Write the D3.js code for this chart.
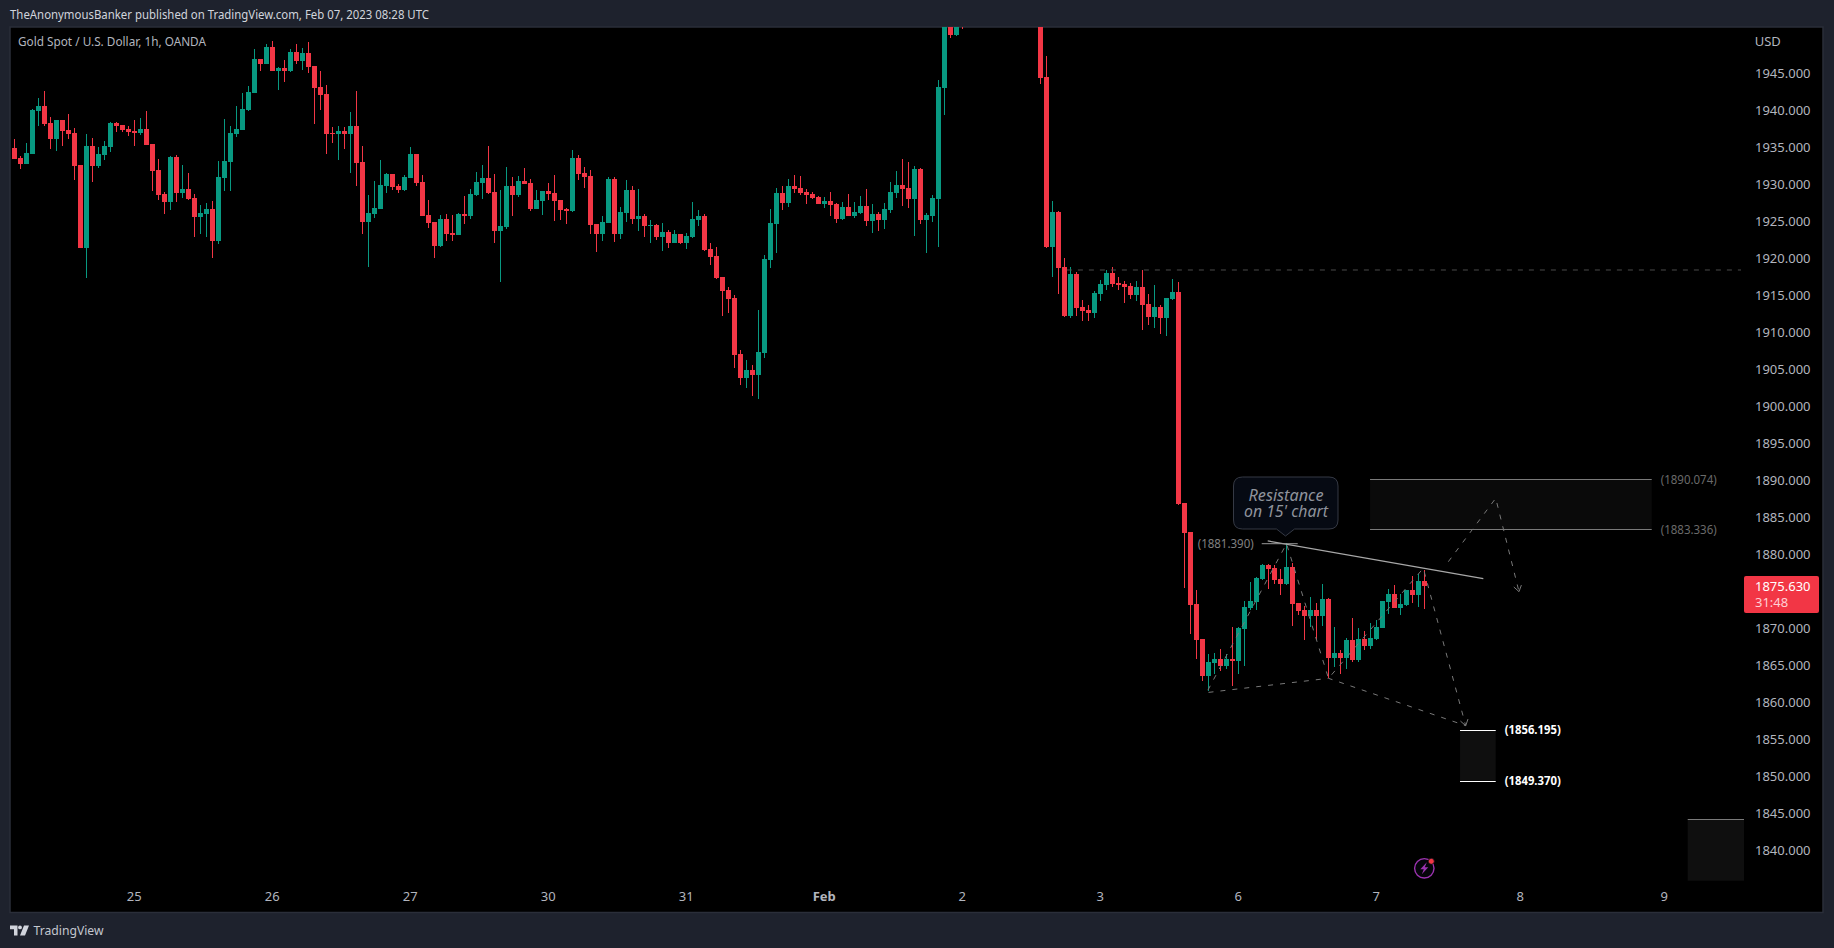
<!DOCTYPE html>
<html><head><meta charset="utf-8">
<script src="https://d3js.org/d3.v7.min.js"></script>
<style>
html,body{margin:0;padding:0;background:#1e222d;overflow:hidden}
svg{display:block}
text{font-family:"Noto Sans",sans-serif}
</style></head><body>
<svg id="c" width="1834" height="948"></svg>
<script>
const firstBar = -1;
const opens = [1935.95,
1934.87,1933.51,1932.75,1934.10,1939.91,1940.54,1938.24,1936.08,1938.65,1937.30,
1936.89,1932.57,1921.35,1935.13,1932.43,1933.92,1935.00,1938.24,1937.97,1937.43,
1937.16,1936.89,1937.43,1935.40,1931.89,1928.65,1927.57,1933.65,1928.78,1929.32,
1928.11,1925.54,1925.95,1926.62,1922.30,1930.81,1932.97,1936.76,1937.30,1940.00,
1942.30,1946.89,1946.22,1948.51,1945.27,1945.68,1945.27,1947.84,1946.62,1947.70,
1945.95,1943.11,1942.16,1936.89,1936.76,1937.16,1936.76,1937.84,1932.97,1924.87,
1925.95,1926.62,1929.73,1931.35,1929.73,1929.19,1930.81,1934.05,1930.27,1925.81,
1924.87,1921.62,1925.27,1923.38,1923.11,1925.95,1925.68,1928.51,1930.14,1930.81,
1928.92,1923.65,1924.19,1929.73,1928.51,1930.40,1930.14,1926.62,1927.70,1929.05,
1928.78,1927.84,1926.62,1926.35,1933.51,1931.49,1931.08,1924.59,1923.24,1924.73,
1930.68,1923.24,1926.08,1929.19,1925.27,1925.68,1924.32,1924.46,1922.84,1923.51,
1922.03,1923.24,1922.03,1922.84,1925.13,1925.68,1921.22,1920.27,1917.43,1915.68,
1914.59,1907.03,1903.78,1904.86,1904.19,1907.16,1919.73,1924.59,1928.78,1927.43,
1929.73,1929.46,1928.92,1928.65,1928.24,1927.30,1927.70,1927.30,1925.27,1926.89,
1925.68,1926.08,1927.03,1925.00,1925.95,1925.13,1926.49,1928.78,1929.86,1929.46,
1927.97,1932.03,1925.14,1925.68,1927.97,1942.97,1955.00,1950.14,1954.50,1953.50,
1956.00,1955.00,1954.00,1955.50,1954.60,1953.20,1954.20,1953.60,1952.80,1953.50,
1954.00,1953.80,1944.46,1921.49,1926.22,1918.78,1912.16,1917.84,1913.38,1912.97,
1912.57,1915.14,1916.35,1917.97,1916.62,1916.49,1916.22,1915.00,1916.08,1913.78,
1912.03,1913.38,1911.89,1914.46,1915.40,1886.89,1882.97,1873.24,1868.51,1863.51,
1865.27,1865.81,1864.86,1865.81,1865.54,1869.87,1872.70,1873.51,1876.62,1878.51,
1878.11,1876.62,1875.95,1878.24,1873.38,1872.43,1871.62,1872.43,1871.62,1873.92,
1865.95,1866.62,1865.95,1868.38,1865.68,1868.51,1867.57,1868.51,1870.00,1873.51,
1874.59,1872.70,1873.11,1875.14,1874.46,1876.35];
const highs = [1936.20,
1936.04,1933.78,1935.50,1940.09,1941.62,1942.57,1939.05,1938.65,1938.65,1939.46,
1937.57,1932.57,1936.71,1936.22,1935.00,1935.81,1938.38,1938.38,1937.97,1937.84,
1938.65,1938.92,1939.86,1935.40,1933.38,1928.92,1933.78,1933.92,1932.57,1931.49,
1928.65,1927.16,1927.43,1927.70,1933.11,1938.78,1937.84,1940.54,1942.30,1943.24,
1948.24,1946.89,1948.92,1949.32,1945.81,1946.76,1948.24,1948.92,1948.38,1949.19,
1945.95,1945.27,1943.38,1937.70,1937.84,1937.70,1939.73,1942.57,1935.13,1928.51,
1930.41,1933.24,1931.49,1931.35,1930.00,1931.22,1935.00,1934.05,1931.22,1927.84,
1924.87,1925.81,1925.95,1925.81,1926.08,1928.38,1929.32,1931.62,1932.57,1935.13,
1931.35,1929.19,1932.30,1930.95,1931.08,1932.16,1930.68,1929.19,1929.05,1930.14,
1931.22,1927.84,1926.76,1934.59,1933.92,1932.30,1931.89,1924.59,1925.68,1930.95,
1930.95,1926.89,1930.54,1929.73,1929.32,1925.95,1925.13,1924.59,1924.73,1923.78,
1923.78,1923.24,1923.38,1927.57,1926.49,1925.95,1922.03,1921.49,1917.43,1916.08,
1915.00,1907.57,1906.22,1905.54,1912.97,1920.40,1926.62,1929.46,1929.73,1930.68,
1931.22,1931.08,1929.32,1928.92,1928.38,1928.24,1928.92,1927.43,1927.57,1928.65,
1927.57,1928.38,1929.32,1927.30,1926.22,1927.43,1930.27,1931.76,1933.38,1932.97,
1932.43,1932.16,1926.08,1928.51,1944.05,1958.00,1956.00,1953.00,1956.00,1957.00,
1959.00,1957.00,1956.50,1958.00,1956.00,1955.00,1956.20,1955.20,1954.00,1955.00,
1955.00,1955.00,1947.30,1927.70,1926.35,1920.00,1918.78,1918.11,1914.32,1913.65,
1915.54,1917.03,1918.38,1918.78,1917.43,1916.89,1916.62,1916.89,1918.38,1915.14,
1916.35,1913.65,1914.59,1917.16,1916.76,1886.89,1882.97,1875.14,1868.51,1866.49,
1866.62,1867.16,1866.49,1870.13,1870.13,1873.65,1876.22,1876.89,1878.65,1878.65,
1878.51,1877.97,1881.49,1878.78,1873.38,1872.97,1874.19,1873.38,1875.95,1874.05,
1870.13,1867.03,1868.65,1871.35,1870.00,1869.60,1870.68,1871.08,1873.65,1875.27,
1875.81,1874.59,1875.14,1877.03,1877.30,1877.84];
const lows = [1934.40,
1933.42,1932.07,1932.75,1934.10,1937.84,1937.84,1934.73,1934.46,1935.13,1936.08,
1930.54,1921.35,1917.30,1930.27,1932.16,1933.24,1934.32,1937.03,1937.03,1936.49,
1935.13,1936.62,1935.27,1929.05,1927.84,1925.95,1926.49,1927.57,1928.11,1927.84,
1922.84,1923.24,1922.84,1920.00,1921.89,1929.05,1929.05,1936.35,1937.30,1939.86,
1942.30,1945.27,1946.22,1945.27,1942.70,1943.78,1945.14,1946.22,1945.41,1945.00,
1938.11,1940.00,1934.05,1935.54,1933.24,1934.73,1931.49,1929.73,1923.24,1918.78,
1925.41,1926.62,1928.78,1929.19,1928.78,1929.05,1930.81,1929.73,1925.68,1924.05,
1920.00,1921.49,1922.30,1922.30,1923.11,1924.59,1925.27,1928.38,1927.97,1928.65,
1922.03,1916.76,1923.92,1925.68,1928.24,1930.00,1926.35,1926.62,1925.81,1927.84,
1925.00,1925.13,1924.59,1926.22,1930.54,1929.46,1923.24,1920.81,1922.30,1924.73,
1922.16,1922.57,1924.86,1924.59,1923.65,1922.84,1922.03,1922.43,1920.95,1921.35,
1922.03,1921.89,1921.22,1922.70,1924.32,1920.95,1919.05,1917.16,1912.16,1912.57,
1905.14,1902.84,1902.43,1901.35,1900.95,1906.49,1918.65,1920.67,1926.49,1926.89,
1928.78,1928.51,1927.30,1927.97,1927.30,1926.76,1925.68,1924.73,1925.13,1925.68,
1925.40,1925.95,1924.32,1923.38,1923.65,1923.92,1926.08,1928.11,1927.03,1926.76,
1922.97,1924.59,1920.68,1924.87,1921.49,1939.32,1949.73,1950.00,1950.95,1952.00,
1954.00,1953.50,1952.60,1953.90,1952.50,1952.00,1953.00,1952.20,1951.80,1952.30,
1952.50,1943.51,1921.35,1917.43,1915.14,1912.03,1911.89,1912.16,1911.49,1911.49,
1911.89,1914.19,1915.68,1916.08,1915.68,1913.92,1914.46,1914.19,1910.27,1910.95,
1910.54,1909.73,1909.46,1914.32,1886.67,1875.40,1869.19,1865.81,1862.84,1861.49,
1863.78,1864.19,1864.46,1862.16,1863.78,1864.86,1872.43,1872.43,1876.49,1875.27,
1875.95,1874.46,1875.81,1870.27,1871.76,1868.38,1870.13,1868.38,1870.27,1863.24,
1864.73,1863.78,1864.46,1865.41,1865.41,1867.03,1867.16,1868.38,1870.00,1871.89,
1872.70,1871.76,1872.97,1873.38,1872.84,1872.57];
const closes = [1934.82,
1933.42,1932.75,1934.19,1940.00,1940.54,1938.11,1936.08,1938.65,1937.16,1936.76,
1932.43,1921.35,1935.13,1932.43,1934.05,1935.13,1938.24,1937.84,1937.30,1937.03,
1936.89,1937.43,1935.27,1931.76,1928.51,1927.57,1933.65,1928.78,1929.32,1927.97,
1925.54,1926.08,1926.62,1922.30,1930.95,1933.11,1936.89,1937.43,1940.13,1942.43,
1946.89,1946.22,1948.51,1945.27,1945.68,1945.27,1947.84,1946.62,1947.70,1945.81,
1942.97,1942.03,1936.76,1936.76,1937.16,1936.76,1937.84,1932.84,1924.87,1926.08,
1926.76,1929.86,1931.35,1929.59,1929.19,1930.95,1934.05,1930.14,1925.68,1924.73,
1921.62,1925.27,1923.24,1923.11,1925.95,1925.68,1928.65,1930.27,1930.81,1928.78,
1923.65,1924.32,1929.73,1928.51,1930.40,1930.00,1926.62,1927.84,1929.05,1928.65,
1927.70,1926.49,1926.35,1933.51,1931.35,1930.95,1924.46,1923.24,1924.86,1930.68,
1923.24,1926.22,1929.19,1925.27,1925.68,1924.32,1924.46,1922.84,1923.51,1922.03,
1923.24,1922.03,1922.97,1925.27,1925.68,1921.08,1920.13,1917.30,1915.54,1914.46,
1906.89,1903.78,1904.86,1904.19,1907.30,1919.86,1924.73,1928.78,1927.43,1929.73,
1929.32,1928.78,1928.51,1928.11,1927.30,1927.70,1927.16,1925.27,1926.89,1925.68,
1926.22,1927.03,1925.00,1925.95,1925.13,1926.62,1928.92,1929.86,1929.32,1927.97,
1932.03,1925.14,1925.81,1928.11,1943.11,1956.00,1950.14,1952.50,1953.50,1956.00,
1955.00,1954.00,1955.50,1954.60,1953.20,1954.20,1953.60,1952.80,1953.50,1954.00,
1953.80,1944.33,1921.49,1926.22,1918.65,1912.16,1917.84,1913.24,1912.84,1912.57,
1915.27,1916.49,1917.97,1916.49,1916.35,1916.08,1915.00,1916.08,1913.65,1912.03,
1913.38,1911.89,1914.59,1915.40,1886.80,1882.88,1873.11,1868.38,1863.51,1865.41,
1865.81,1864.86,1865.81,1865.54,1870.00,1872.84,1873.65,1876.76,1878.51,1877.97,
1876.49,1875.95,1878.24,1873.24,1872.30,1871.62,1872.43,1871.62,1873.92,1865.95,
1866.62,1865.95,1868.38,1865.68,1868.51,1867.57,1868.65,1870.13,1873.65,1874.59,
1872.70,1873.24,1875.14,1874.46,1876.35,1875.63];

const priceTicks = [1840,1845,1850,1855,1860,1865,1870,1880,1885,1890,1895,1900,1905,1910,1915,1920,1925,1930,1935,1940,1945];
const dayBars = [20,43,66,89,112,135,158,181,204,227,251,275];
const dayLabels = ["25","26","27","30","31","Feb","2","3","6","7","8","9"];
const lastPrice = 1875.63, lastLabel = "1875.630", countdown = "31:48";

const zoneA = {b:[225.92,272.87], p:[1890.074,1883.336]};
const zoneB = {b:[240.92,246.87], p:[1856.195,1849.370]};
const zoneC = {b:[278.87,288.25], p:[1844.15,1835.85]};
const priceLabels = [["(1890.074)",274.37,1890.074,"#6a6a6a",400],["(1883.336)",274.37,1883.336,"#6a6a6a",400],
                     ["(1856.195)",248.37,1856.195,"#ffffff",700],["(1849.370)",248.37,1849.370,"#ffffff",700]];
const hDash = {b:[175.4,287.75], p:1918.38};
const resLevel = {b:[207.87,213.87], p:1881.39};
const trend = [[208.87,1881.76],[244.8,1876.66]];
const base = [[199,1861.3],[219,1863.2],[241.87,1856.8]];
const zig = [[198.9,1861.6],[212,1881.39],[219,1863.2],[234.8,1878.07],[241.87,1856.8]];
const fwd = [[238.97,1878.96],[246.87,1887.53],[250.75,1874.91]];

const svg = d3.select("#c");
const L=10,T=27,R=1823,B=912.5;
const x = d3.scaleLinear().domain([-1,235]).range([8.5,1424.5]);
const y = d3.scaleLinear().domain([1890,1850]).range([480,776]);
const RED="#f23645", GREEN="#089981";

svg.append("defs").append("clipPath").attr("id","plot").append("rect")
  .attr("x",L+1).attr("y",T).attr("width",1733).attr("height",B-T);
svg.append("rect").attr("x",L).attr("y",T).attr("width",R-L).attr("height",B-T)
  .attr("fill","#000").attr("stroke","#2a2e39").attr("stroke-width",1.5);

const plot = svg.append("g").attr("clip-path","url(#plot)");

// zones
[[zoneA,"#0a0a0a"],[zoneB,"#0f0f0f"],[zoneC,"#0f0f0f"]].forEach(([z,f])=>{
  plot.append("rect").attr("x",x(z.b[0])).attr("y",y(z.p[0]))
    .attr("width",x(z.b[1])-x(z.b[0])).attr("height",y(z.p[1])-y(z.p[0])).attr("fill",f);
});

// candles
const bars = opens.map((o,k)=>({b:k+firstBar,o,h:highs[k],l:lows[k],c:closes[k]}));
const g = plot.append("g").attr("shape-rendering","crispEdges");
g.selectAll("rect.w").data(bars).join("rect").attr("class","w")
  .attr("x",d=>x(d.b)-0.5).attr("width",1)
  .attr("y",d=>Math.round(y(d.h))).attr("height",d=>Math.max(1,Math.round(y(d.l))-Math.round(y(d.h))))
  .attr("fill",d=>d.c>=d.o?GREEN:RED);
g.selectAll("rect.b").data(bars).join("rect").attr("class","b")
  .attr("x",d=>x(d.b)-2.5).attr("width",5)
  .attr("y",d=>Math.round(y(Math.max(d.o,d.c))))
  .attr("height",d=>Math.max(1,Math.round(y(Math.min(d.o,d.c)))-Math.round(y(Math.max(d.o,d.c)))))
  .attr("fill",d=>d.c>=d.o?GREEN:RED);

// drawings
const line = d3.line().x(d=>x(d[0])).y(d=>y(d[1]));
const DASH="#787878";
function dashed(pts){plot.append("path").attr("d",line(pts)).attr("fill","none").attr("stroke",DASH)
  .attr("stroke-width",1).attr("stroke-dasharray","5 7");}
dashed(base); dashed(zig); dashed(fwd);
function arrow(pts){
  const [a,b]=pts.slice(-2), ax=x(a[0]),ay=y(a[1]),ex=x(b[0]),ey=y(b[1]);
  const t=Math.atan2(ey-ay,ex-ax), s=7;
  const p=[[ex+s*Math.cos(t+2.55),ey+s*Math.sin(t+2.55)],[ex,ey],[ex+s*Math.cos(t-2.55),ey+s*Math.sin(t-2.55)]];
  plot.append("path").attr("d",d3.line()(p)).attr("fill","none").attr("stroke",DASH).attr("stroke-width",1);
}
arrow(zig); arrow(fwd);
plot.append("line").attr("x1",x(hDash.b[0])).attr("x2",x(hDash.b[1])).attr("y1",y(hDash.p)).attr("y2",y(hDash.p))
  .attr("stroke","#4a4a4a").attr("stroke-width",1).attr("stroke-dasharray","5 6");
plot.append("path").attr("d",line(trend)).attr("stroke","#a8a8a8").attr("stroke-width",1.25).attr("fill","none");
plot.append("line").attr("x1",x(resLevel.b[0])).attr("x2",x(resLevel.b[1])).attr("y1",y(resLevel.p)).attr("y2",y(resLevel.p))
  .attr("stroke","#9a9a9a").attr("stroke-width",1);
[[zoneA,"#7a7a7a","#7a7a7a"],[zoneB,"#ffffff","#ffffff"]].forEach(([z,c1,c2])=>{
  z.p.forEach((p,i)=>plot.append("line").attr("x1",x(z.b[0])).attr("x2",x(z.b[1]))
    .attr("y1",Math.round(y(p))+0.5).attr("y2",Math.round(y(p))+0.5).attr("stroke",i?c2:c1));
});
plot.append("line").attr("x1",x(zoneC.b[0])).attr("x2",x(zoneC.b[1]))
  .attr("y1",Math.round(y(zoneC.p[0]))+0.5).attr("y2",Math.round(y(zoneC.p[0]))+0.5).attr("stroke","#7a7a7a");

function fit(sel,w){return sel.attr("textLength",w).attr("lengthAdjust","spacingAndGlyphs");}
priceLabels.forEach(([t,b,p,c,w])=>{
  fit(plot.append("text").attr("x",x(b)).attr("y",y(p)).attr("dy","0.35em").attr("fill",c)
    .attr("font-size",12).attr("font-weight",w).text(t),56);
});
fit(plot.append("text").attr("x",1197.7).attr("y",y(resLevel.p)).attr("dy","0.35em")
  .attr("fill","#808080").attr("font-size",12).text("(1881.390)"),56);

// callout
const cx=x(212)-1, cTop=477, cBot=529, cLeft=1233.5, cRight=1338, rr=9;
plot.append("path").attr("d",
 `M${cLeft+rr},${cTop}H${cRight-rr}Q${cRight},${cTop} ${cRight},${cTop+rr}V${cBot-rr}Q${cRight},${cBot} ${cRight-rr},${cBot}H${cx+9}L${cx},${cBot+7}L${cx-9},${cBot}H${cLeft+rr}Q${cLeft},${cBot} ${cLeft},${cBot-rr}V${cTop+rr}Q${cLeft},${cTop} ${cLeft+rr},${cTop}Z`)
 .attr("fill","#060a13").attr("stroke","#353944").attr("stroke-width",1);
const note = plot.append("text").attr("text-anchor","middle").attr("font-style","italic")
  .attr("font-size",16).attr("fill","#8f939c");
[["Resistance",495,75],["on 15' chart",511,84]].forEach(([t,yy,w])=>{
  fit(note.append("tspan").attr("x",cx+0.5).attr("y",yy+5.6).text(t),w);
});

// lightning badge
const bx=1424.3,by=868.3;
svg.append("circle").attr("cx",bx).attr("cy",by).attr("r",9.7).attr("fill","#05050a").attr("stroke","#9c33b0").attr("stroke-width",1.4);
svg.append("path").attr("d",`M${bx+2.5},${by-6}L${bx-4},${by+1}H${bx-0.5}L${bx-2.5},${by+6}L${bx+4},${by-1}H${bx+0.5}Z`).attr("fill","#9c33b0");
svg.append("circle").attr("cx",bx+7).attr("cy",by-7).attr("r",3).attr("fill",RED).attr("stroke","#0a0d14").attr("stroke-width",0.8);

// axes
const yAxis = d3.axisRight(y).tickValues(priceTicks).tickFormat(d3.format(".3f")).tickSize(0).tickPadding(0);
const ya = svg.append("g").attr("transform","translate(1755,0)").call(yAxis);
ya.select(".domain").remove();
ya.selectAll("text").attr("font-size",13).attr("fill","#b2b5be").attr("font-family",'"Noto Sans",sans-serif').attr("dy","0.32em");
const xAxis = d3.axisBottom(x).tickValues(dayBars).tickFormat((d,i)=>dayLabels[i]).tickSize(0).tickPadding(0);
const xa = svg.append("g").attr("transform","translate(-0.8,892)").call(xAxis);
xa.select(".domain").remove();
xa.selectAll("text").attr("font-size",13).attr("fill","#b2b5be").attr("font-family",'"Noto Sans",sans-serif')
  .attr("font-weight",(d,i)=>dayLabels[i]==="Feb"?700:400);

svg.append("text").attr("x",1754.7).attr("y",42).attr("dy","0.3em").attr("font-size",13).attr("fill","#b2b5be").text("USD");

// last price tag
svg.append("rect").attr("x",1744).attr("y",576).attr("width",75).attr("height",37).attr("rx",2).attr("fill",RED);
svg.append("text").attr("x",1755).attr("y",y(lastPrice)+1).attr("dy","0.32em").attr("font-size",13).attr("fill","#fff").text(lastLabel);
svg.append("text").attr("x",1755).attr("y",603).attr("dy","0.32em").attr("font-size",13).attr("fill","#ffd0d4").text(countdown);

// titles
fit(svg.append("text").attr("x",10).attr("y",15).attr("dy","0.35em").attr("font-size",12.5).attr("fill","#d1d4dc")
  .text("TheAnonymousBanker published on TradingView.com, Feb 07, 2023 08:28 UTC"),419);
fit(svg.append("text").attr("x",18).attr("y",42).attr("dy","0.35em").attr("font-size",12.5).attr("fill","#b2b5be")
  .text("Gold Spot / U.S. Dollar, 1h, OANDA"),188);

// footer logo
const logo = svg.append("g").attr("fill","#d1d4dc");
logo.append("path").attr("d","M10 925.5h7.5v10h-3.5v-6.2h-4z");
logo.append("circle").attr("cx",20).attr("cy",927.4).attr("r",1.9);
logo.append("path").attr("d","M24 925.5h5l-4 10h-5z");
fit(svg.append("text").attr("x",33.5).attr("y",930.5).attr("dy","0.35em").attr("font-size",13).attr("fill","#c4c7cf").text("TradingView"),70);
</script>
</body></html>
